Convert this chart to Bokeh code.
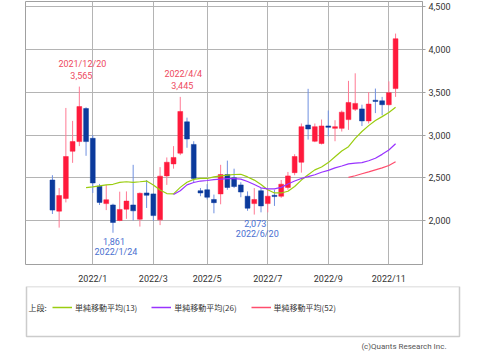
from bokeh.plotting import figure
from bokeh.models import (Range1d, FixedTicker, NumeralTickFormatter, Legend, LegendItem,
                          Label, ColumnDataSource, BoxAnnotation)
from bokeh.core.properties import value
from bokeh.layouts import column
from bokeh.embed import file_html
from bokeh.resources import INLINE

# ---- data (weekly candles, 2021/11/22 .. 2022/11/14) ----
opens = [2476, 2113, 2261, 2811, 2924, 3309, 2962, 2404, 2201, 2185,
         2004, 2136, 2185, 2019, 2325, 2314, 2012, 2524, 2664, 2789,
         3154, 2891, 2351, 2362, 2249, 2314, 2540, 2502, 2419, 2287,
         2201, 2351, 2201, 2298, 2287, 2389, 2562, 2683, 3117, 2928,
         2902, 3106, 3078, 3078, 3180, 3301, 3305, 3165, 3406, 3399,
         3354, 3542]
highs = [2532, 2382, 3316, 3165, 3565, 3324, 3000, 2430, 2419, 2200,
         2340, 2343, 2653, 2330, 2476, 2320, 2626, 2739, 2871, 3445,
         3203, 2928, 2382, 2427, 2306, 2653, 2702, 2608, 2450, 2343,
         2382, 2382, 2362, 2362, 2476, 2570, 2777, 3135, 3539, 3135,
         3181, 3286, 3173, 3286, 3632, 3720, 3354, 3501, 3542, 3445,
         3626, 4183]
lows = [2080, 1921, 2215, 2676, 2871, 2758, 2325, 2185, 2125, 1861,
        1995, 2023, 2004, 1933, 2150, 2000, 1950, 2419, 2608, 2766,
        2852, 2450, 2287, 2249, 2088, 2193, 2362, 2382, 2275, 2117,
        2073, 2099, 2099, 2174, 2268, 2362, 2532, 2562, 2947, 2917,
        2890, 2985, 2928, 3041, 3060, 3280, 3105, 3135, 3256, 3230,
        3343, 3445]
closes = [2125, 2295, 2750, 2924, 3332, 2924, 2442, 2215, 2246, 1981,
          2133, 2230, 2117, 2321, 2298, 2061, 2521, 2683, 2739, 3275,
          2954, 2495, 2325, 2275, 2212, 2540, 2389, 2400, 2336, 2147,
          2249, 2174, 2287, 2283, 2427, 2524, 2750, 3098, 3071, 3098,
          3106, 3090, 3098, 3267, 3380, 3369, 3165, 3361, 3392, 3354,
          3493, 4123]

sma13_start = 5
sma13 = [2388, 2396, 2407, 2419, 2426, 2449, 2456, 2449, 2456, 2464,
         2419, 2360, 2318, 2315, 2390, 2450, 2483, 2494, 2494, 2512,
         2524, 2532, 2540, 2543, 2512, 2475, 2424, 2362, 2325, 2325,
         2345, 2400, 2475, 2537, 2594, 2628, 2679, 2747, 2814, 2865,
         2962, 3041, 3110, 3170, 3215, 3262, 3324]
sma26_start = 18
sma26 = [2306, 2351, 2419, 2447, 2464, 2470, 2481, 2486, 2492, 2492,
         2486, 2458, 2424, 2385, 2373, 2373, 2390, 2430, 2464, 2494,
         2515, 2537, 2566, 2588, 2617, 2639, 2664, 2673, 2679, 2701,
         2730, 2775, 2826, 2899]
sma52_start = 44
sma52 = [2506, 2526, 2549, 2571, 2594, 2617, 2645, 2690]

tick_idx = [6, 15, 23, 32, 41, 50]
tick_labels = ["2022/1", "2022/3", "2022/5", "2022/7", "2022/9", "2022/11"]
y_ticks = [2000, 2500, 3000, 3500, 4000, 4500]

hi_ann_idx = [4, 19]
hi_ann_date = ["2021/12/20", "2022/4/4"]
lo_ann_idx = [9, 30]
lo_ann_date = ["2022/1/24", "2022/6/20"]

legend_labels = ["単純移動平均(13)", "単純移動平均(26)", "単純移動平均(52)"]
legend_title = "上段:"
credit = "(c)Quants Research Inc."

# ---- colours ----
UP = "#ff1a3c"
DOWN = "#0b3a9c"
UP_WICK = "#ff7a94"
DOWN_WICK = "#7090e0"
C13 = "#9acd10"
C26 = "#9933ff"
C52 = "#ff4d6d"
RED_TXT = "#ee4a60"
BLUE_TXT = "#4a6fd0"
FONT = "Roboto"

idx = list(range(len(opens)))
up_i = [i for i in idx if closes[i] >= opens[i]]
dn_i = [i for i in idx if closes[i] < opens[i]]


def src(ids):
    return ColumnDataSource(dict(
        x=ids,
        top=[max(opens[i], closes[i]) for i in ids],
        bottom=[min(opens[i], closes[i]) for i in ids],
        high=[highs[i] for i in ids],
        low=[lows[i] for i in ids],
    ))


up_src = src(up_i)
dn_src = src(dn_i)

p = figure(width=494, height=286, x_range=Range1d(-4, 55), y_range=Range1d(1491, 4557),
           y_axis_location="right", output_backend="svg", toolbar_location=None,
           min_border_left=25, min_border_right=72, min_border_top=1, min_border_bottom=14)
p.frame_align = False
p.background_fill_color = "white"
p.border_fill_color = "white"
p.outline_line_color = "#a0a0a0"

p.xgrid.ticker = FixedTicker(ticks=tick_idx)
p.ygrid.ticker = FixedTicker(ticks=y_ticks)
p.grid.grid_line_color = "#b4b4b4"
p.grid.grid_line_width = 1

p.yaxis.ticker = FixedTicker(ticks=y_ticks)
p.yaxis.formatter = NumeralTickFormatter(format="0,0")
p.yaxis.axis_line_color = "#a0a0a0"
p.yaxis.major_tick_out = 3
p.yaxis.major_tick_in = 0
p.yaxis.major_tick_line_color = "#a0a0a0"
p.yaxis.minor_tick_line_color = None
p.yaxis.major_label_standoff = 3

p.xaxis.ticker = FixedTicker(ticks=tick_idx)
p.xaxis.major_label_overrides = {t: l for t, l in zip(tick_idx, tick_labels)}
p.xaxis.axis_line_color = None
p.xaxis.major_tick_line_color = None
p.xaxis.minor_tick_line_color = None
p.xaxis.major_label_standoff = 3

for ax in (p.xaxis, p.yaxis):
    ax.major_label_text_font = FONT
    ax.major_label_text_font_size = "9px"
    ax.major_label_text_color = "#333333"

# wicks
p.segment(x0="x", y0="low", x1="x", y1="high", source=up_src, line_color=UP_WICK, line_width=1)
p.segment(x0="x", y0="low", x1="x", y1="high", source=dn_src, line_color=DOWN_WICK, line_width=1)
# bodies
p.vbar(x="x", top="top", bottom="bottom", width=0.72, source=up_src,
       fill_color=UP, line_color=UP, line_width=0.5)
p.vbar(x="x", top="top", bottom="bottom", width=0.72, source=dn_src,
       fill_color=DOWN, line_color=DOWN, line_width=0.5)

# moving averages
x13 = list(range(sma13_start, sma13_start + len(sma13)))
x26 = list(range(sma26_start, sma26_start + len(sma26)))
x52 = list(range(sma52_start, sma52_start + len(sma52)))
p.line(x13, sma13, line_color=C13, line_width=1.2)
p.line(x26, sma26, line_color=C26, line_width=1.2)
p.line(x52, sma52, line_color=C52, line_width=1.2)

# high / low annotations
hi_src = ColumnDataSource(dict(x=hi_ann_idx, y=[highs[i] for i in hi_ann_idx],
                               price=[f"{highs[i]:,}" for i in hi_ann_idx], date=hi_ann_date))
lo_src = ColumnDataSource(dict(x=lo_ann_idx, y=[lows[i] for i in lo_ann_idx],
                               price=[f"{lows[i]:,}" for i in lo_ann_idx], date=lo_ann_date))
common = dict(text_font=value(FONT), text_font_size="9px", text_align="center",
              text_baseline="middle")
p.text(x="x", y="y", text="price", source=hi_src, x_offset=2, y_offset=-11.5,
       text_color=RED_TXT, **common)
p.text(x="x", y="y", text="date", source=hi_src, x_offset=3, y_offset=-23,
       text_color=RED_TXT, **common)
p.text(x="x", y="y", text="price", source=lo_src, x_offset=1, y_offset=8.5,
       text_color=BLUE_TXT, **common)
p.text(x="x", y="y", text="date", source=lo_src, x_offset=3, y_offset=19.5,
       text_color=BLUE_TXT, **common)

# ---- legend panel (full-width frame; box drawn as a screen-unit annotation) ----
p2 = figure(width=494, height=65, x_range=Range1d(0, 1), y_range=Range1d(0, 1),
            x_axis_type=None, y_axis_type=None, output_backend="svg", toolbar_location=None,
            min_border_left=0, min_border_right=0, min_border_top=0, min_border_bottom=0)
p2.frame_align = False
p2.grid.visible = False
p2.outline_line_color = None
p2.background_fill_color = "white"
p2.border_fill_color = "white"

p2.add_layout(BoxAnnotation(left=26, right=459, bottom=15, top=65,
                            left_units="screen", right_units="screen",
                            bottom_units="screen", top_units="screen",
                            fill_alpha=0, line_color="#555555", line_width=1.5))

# legend-key renderers: the same MA series, outside this panel's visible range
r13 = p2.line(x13, sma13, line_color=C13, line_width=1.5)
r26 = p2.line(x26, sma26, line_color=C26, line_width=1.5)
r52 = p2.line(x52, sma52, line_color=C52, line_width=1.5)

legend = Legend(items=[LegendItem(label=legend_labels[0], renderers=[r13]),
                       LegendItem(label=legend_labels[1], renderers=[r26]),
                       LegendItem(label=legend_labels[2], renderers=[r52])],
                orientation="horizontal", location=(52, 38),
                glyph_width=20, glyph_height=12, label_height=12, label_standoff=3,
                spacing=14, padding=0, margin=0, border_line_color=None,
                background_fill_alpha=0, label_text_font="Noto Sans CJK JP",
                label_text_font_size="8px", label_text_color="#333333")
p2.add_layout(legend)
p2.add_layout(Label(x=28, y=44, x_units="screen", y_units="screen", text=legend_title,
                    text_font="Noto Sans CJK JP", text_font_size="8px",
                    text_color="#333333", text_baseline="middle"))
p2.add_layout(Label(x=446, y=5, x_units="screen", y_units="screen", text=credit,
                    text_font=FONT, text_font_size="8px", text_color="#555555",
                    text_align="right", text_baseline="middle"))

layout = column(p, p2, spacing=0)
open("out.html", "w").write(file_html(layout, INLINE))
